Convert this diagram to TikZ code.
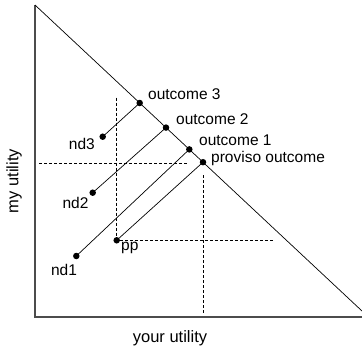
\documentclass[tikz,border=0pt]{standalone}
\usepackage{fontspec}
\setmainfont{Liberation Sans}
\begin{document}
\begin{tikzpicture}[x=1pt,y=-1pt,
  dot/.style={circle,fill=black,inner sep=0pt,minimum size=6.5pt},
  lbl/.style={inner sep=0pt,font=\fontsize{15.5}{18}\selectfont},
  axlbl/.style={inner sep=0pt,font=\fontsize{16.5}{19}\selectfont},
  axis/.style={draw=black!70,line width=1.3pt},
  conn/.style={draw=black,line width=0.7pt},
  guide/.style={draw=black,line width=0.8pt,dash pattern=on 3pt off 2pt}]
\useasboundingbox (0,0) rectangle (362,348);
% axes and frontier
\coordinate (top) at (35,5);
\coordinate (origin) at (35,317);
\coordinate (xend) at (362,317);
\coordinate (fend) at (362,311);
\draw[axis] (top) -- (origin) -- (xend);
\draw[conn] (top) -- (fend);
% points
\node[dot] (o3) at (139.7,103) {};
\node[dot] (o2) at (166,127.6) {};
\node[dot] (o1) at (189.3,149.4) {};
\node[dot] (pv) at (203,162.2) {};
\node[dot] (nd3) at (102.7,136.7) {};
\node[dot] (nd2) at (92.7,192.7) {};
\node[dot] (nd1) at (76.3,256) {};
\node[dot] (pp) at (116.7,240.3) {};
% connectors
\draw[conn] (nd3.center) -- (o3.center);
\draw[conn] (nd2.center) -- (o2.center);
\draw[conn] (nd1.center) -- (o1.center);
\draw[conn] (pp.center) -- (pv.center);
% dashed guides
\coordinate (h1a) at (39,163.7);
\coordinate (h1b) at (188,163.7);
\coordinate (v1a) at (116.7,97.7);
\coordinate (h2b) at (272.7,240.3);
\coordinate (v2a) at (203,175);
\coordinate (v2b) at (203,314);
\draw[guide] (h1a) -- (h1b);
\draw[guide] (v1a) -- (pp.center);
\draw[guide] (pp.east) -- (h2b);
\draw[guide] (v2a) -- (v2b);
% labels
\node[lbl,anchor=west] (lo3) at (148,94) {outcome 3};
\node[lbl,anchor=west] (lo2) at (176,119) {outcome 2};
\node[lbl,anchor=west] (lo1) at (199,140) {outcome 1};
\node[lbl,anchor=west] (lpv) at (211,158) {proviso outcome};
\node[lbl,anchor=east] (lnd3) at (95,144) {nd3};
\node[lbl] (lnd2) at (75.5,203) {nd2};
\node[lbl] (lnd1) at (64,270) {nd1};
\node[lbl,anchor=west] (lpp) at (121,248) {pp};
\node[axlbl] (xl) at (170,338) {your utility};
\node[axlbl,rotate=90] (yl) at (14,181) {my utility};
\end{tikzpicture}
\end{document}
